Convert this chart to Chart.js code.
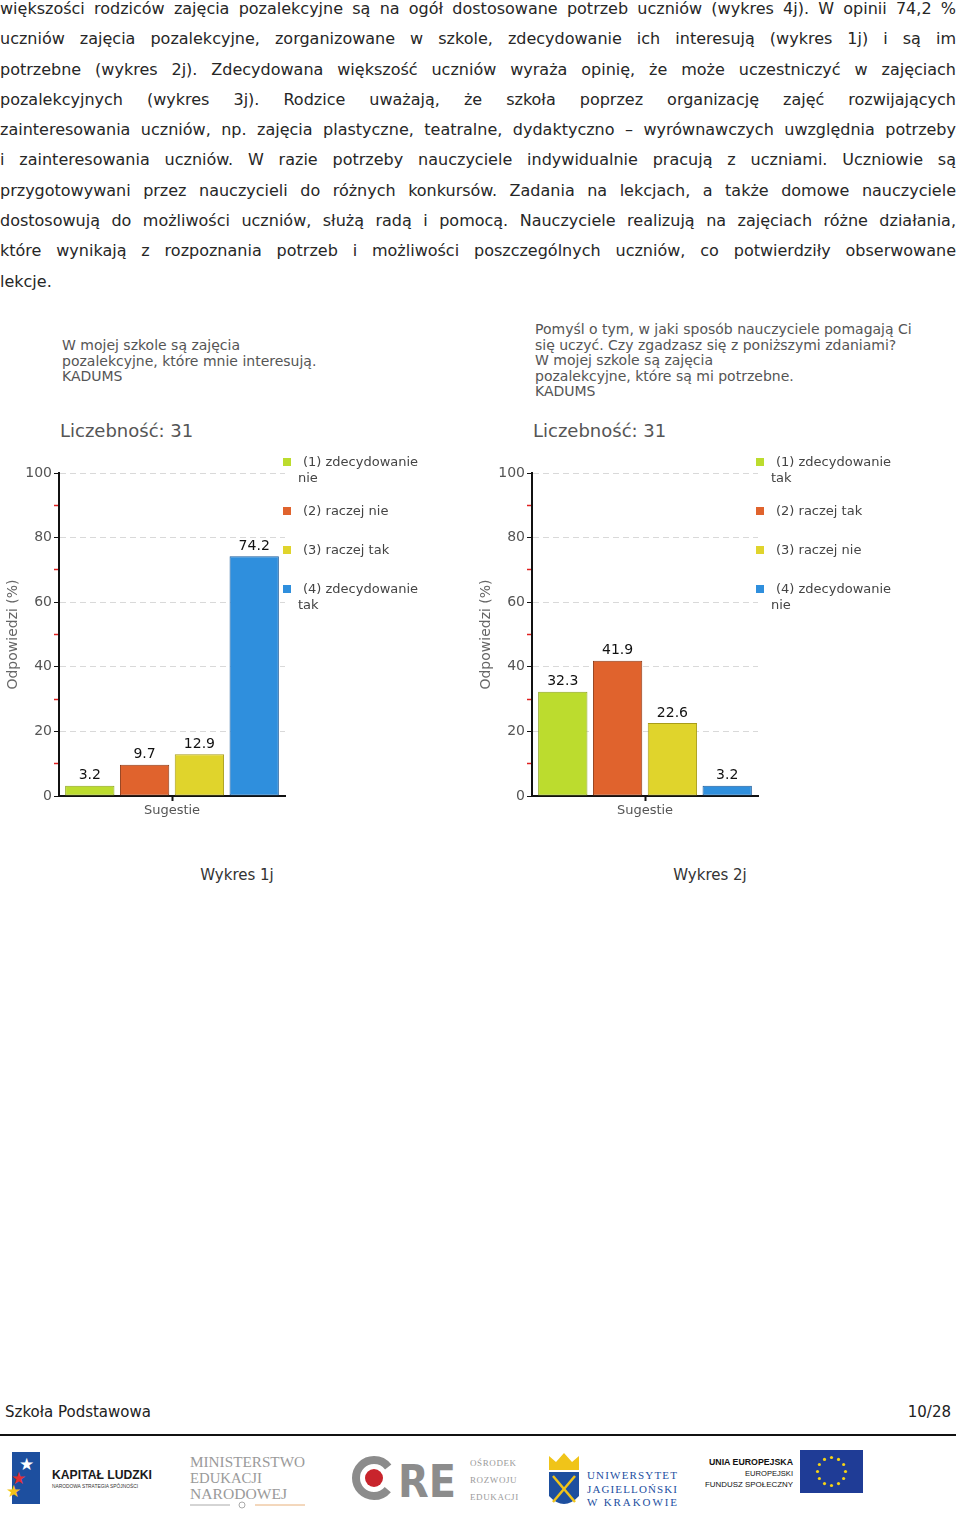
<!DOCTYPE html>
<html lang="pl">
<head>
<meta charset="utf-8">
<title>Wykres 1j i 2j</title>
<script src="https://cdn.jsdelivr.net/npm/chart.js@4.4.1/dist/chart.umd.min.js"></script>
<style>
  body { margin: 0; width: 960px; height: 1523px; position: relative; background: #fff;
         font-family: 'DejaVu Sans', Verdana, sans-serif; color: #222; overflow: hidden; }
  .para { position: absolute; left: 0; top: -6px; width: 956px; font-size: 16px; line-height: 30.3px; color: #262626; }
  .para div { text-align: justify; text-align-last: justify; height: 30.3px; }
  .para div.last { text-align-last: left; }
  .ctitle { position: absolute; font-size: 14px; line-height: 15.5px; color: #555; white-space: nowrap; }
  .count { position: absolute; font-size: 18px; line-height: 22px; color: #555; }
  .chart { position: absolute; top: 440px; width: 480px; height: 400px; }
  .legend { position: absolute; top: 454px; width: 160px; font-size: 13px; line-height: 16px; color: #444; }
  .legend .item { display: flex; align-items: flex-start; min-height: 22px; margin-bottom: 17px; }
  .legend .box { width: 8px; height: 8px; margin-top: 4px; flex: none; }
  .legend .txt { margin-left: 7px; width: 135px; text-indent: 5px; }
  .caption { position: absolute; top: 865px; width: 200px; text-align: center; font-size: 15px; line-height: 20px; color: #333; }
  .foot { position: absolute; top: 1402px; font-size: 15px; line-height: 20px; color: #222; }
  .rule { position: absolute; left: 0; top: 1434px; width: 956px; height: 2px; background: #111; }
  .logos { position: absolute; left: 0; top: 1440px; }
</style>
</head>
<body>

<div class="para">
  <div>większości rodziców zajęcia pozalekcyjne są na ogół dostosowane potrzeb uczniów (wykres 4j). W opinii 74,2 %</div>
  <div>uczniów zajęcia pozalekcyjne, zorganizowane w szkole, zdecydowanie ich interesują (wykres 1j) i są im</div>
  <div>potrzebne (wykres 2j). Zdecydowana większość uczniów wyraża opinię, że może uczestniczyć w zajęciach</div>
  <div>pozalekcyjnych (wykres 3j). Rodzice uważają, że szkoła poprzez organizację zajęć rozwijających</div>
  <div>zainteresowania uczniów, np. zajęcia plastyczne, teatralne, dydaktyczno – wyrównawczych uwzględnia potrzeby</div>
  <div>i zainteresowania uczniów. W razie potrzeby nauczyciele indywidualnie pracują z uczniami. Uczniowie są</div>
  <div>przygotowywani przez nauczycieli do różnych konkursów. Zadania na lekcjach, a także domowe nauczyciele</div>
  <div>dostosowują do możliwości uczniów, służą radą i pomocą. Nauczyciele realizują na zajęciach różne działania,</div>
  <div>które wynikają z rozpoznania potrzeb i możliwości poszczególnych uczniów, co potwierdziły obserwowane</div>
  <div class="last">lekcje.</div>
</div>

<div class="ctitle" style="left:62px; top:338px;">W mojej szkole są zajęcia<br>pozalekcyjne, które mnie interesują.<br>KADUMS</div>
<div class="ctitle" style="left:535px; top:322px;">Pomyśl o tym, w jaki sposób nauczyciele pomagają Ci<br>się uczyć. Czy zgadzasz się z poniższymi zdaniami?<br>W mojej szkole są zajęcia<br>pozalekcyjne, które są mi potrzebne.<br>KADUMS</div>
<div class="count" style="left:60px; top:420px;">Liczebność: 31</div>
<div class="count" style="left:533px; top:420px;">Liczebność: 31</div>

<div class="chart" style="left:0px;"><canvas id="chart1j" width="480" height="400"></canvas></div>
<div class="chart" style="left:473px;"><canvas id="chart2j" width="480" height="400"></canvas></div>
<div class="legend" id="legend1j" style="left:283px;"></div>
<div class="legend" id="legend2j" style="left:756px;"></div>

<div class="caption" style="left:137px;">Wykres 1j</div>
<div class="caption" style="left:610px;">Wykres 2j</div>

<div class="foot" style="left:5px;">Szkoła Podstawowa</div>
<div class="foot" style="right:9px;">10/28</div>
<div class="rule"></div>

<svg class="logos" width="960" height="83" viewBox="0 1440 960 83">
  <!-- Kapitał Ludzki -->
  <rect x="12" y="1452" width="28" height="52" fill="#1d4f9f"/>
  <text x="19" y="1470" font-size="17" fill="#fff" font-family="DejaVu Sans">★</text>
  <text x="11" y="1484" font-size="17" fill="#e03030" font-family="DejaVu Sans">★</text>
  <text x="6" y="1497" font-size="17" fill="#f2c21a" font-family="DejaVu Sans">★</text>
  <text x="52" y="1479" font-size="12" font-weight="bold" fill="#1a1a1a" font-family="Liberation Sans Narrow, Liberation Sans" textLength="100" lengthAdjust="spacingAndGlyphs">KAPITAŁ LUDZKI</text>
  <text x="52" y="1488" font-size="5.5" fill="#333" font-family="Liberation Sans" textLength="86" lengthAdjust="spacingAndGlyphs">NARODOWA STRATEGIA SPÓJNOŚCI</text>

  <!-- Ministerstwo -->
  <g font-family="Liberation Serif" font-size="15" fill="#9a9a9a">
    <text x="190" y="1467" textLength="115" lengthAdjust="spacingAndGlyphs">MINISTERSTWO</text>
    <text x="190" y="1483" textLength="72" lengthAdjust="spacingAndGlyphs">EDUKACJI</text>
    <text x="190" y="1499" textLength="97" lengthAdjust="spacingAndGlyphs">NARODOWEJ</text>
  </g>
  <line x1="190" y1="1505" x2="230" y2="1505" stroke="#aaa" stroke-width="1"/>
  <line x1="255" y1="1505" x2="305" y2="1505" stroke="#e8b07a" stroke-width="1"/>
  <circle cx="242" cy="1505" r="3" fill="none" stroke="#aaa"/>

  <!-- ORE -->
  <circle cx="374" cy="1478" r="18" fill="none" stroke="#8c8c8c" stroke-width="8" stroke-dasharray="88 25.1" stroke-dashoffset="-12.5"/>
  <circle cx="374" cy="1478" r="9" fill="#c8242c"/>
  <text x="398" y="1497" font-size="44" font-weight="bold" fill="#8c8c8c" font-family="DejaVu Sans" textLength="58" lengthAdjust="spacingAndGlyphs">RE</text>
  <g font-family="Liberation Serif" font-size="9" fill="#9a9a9a" letter-spacing="0.6">
    <text x="470" y="1466">OŚRODEK</text>
    <text x="470" y="1483">ROZWOJU</text>
    <text x="470" y="1500">EDUKACJI</text>
  </g>

  <!-- Uniwersytet Jagielloński -->
  <polygon points="549,1470 549,1456 556,1462 564,1453 572,1462 579,1456 579,1470" fill="#f0c419"/>
  <path d="M549,1472 L579,1472 L579,1496 Q564,1512 549,1496 Z" fill="#1d4f9f"/>
  <line x1="553" y1="1476" x2="575" y2="1502" stroke="#f0c419" stroke-width="2.5"/>
  <line x1="575" y1="1476" x2="553" y2="1502" stroke="#f0c419" stroke-width="2.5"/>
  <g font-family="Liberation Serif" font-size="11" fill="#1d4f9f">
    <text x="587" y="1479" textLength="90" lengthAdjust="spacing">UNIWERSYTET</text>
    <text x="587" y="1493" textLength="90" lengthAdjust="spacing">JAGIELLOŃSKI</text>
    <text x="587" y="1506" textLength="90" lengthAdjust="spacing">W KRAKOWIE</text>
  </g>

  <!-- Unia Europejska -->
  <g font-family="Liberation Sans Narrow, Liberation Sans" fill="#111">
    <text x="709" y="1465" font-size="8.5" font-weight="bold" textLength="84" lengthAdjust="spacingAndGlyphs">UNIA EUROPEJSKA</text>
    <text x="745" y="1476" font-size="7" textLength="48" lengthAdjust="spacingAndGlyphs">EUROPEJSKI</text>
    <text x="705" y="1487" font-size="7" textLength="88" lengthAdjust="spacingAndGlyphs">FUNDUSZ SPOŁECZNY</text>
  </g>
  <rect x="800" y="1450" width="63" height="43" fill="#1f3c96"/>
  <g id="euStars" fill="#f5d315"></g>
</svg>

<script>
// dane wykresów
const categories = ['Sugestie'];
const answers1j = ['(1) zdecydowanie nie', '(2) raczej nie', '(3) raczej tak', '(4) zdecydowanie tak'];
const percents1j = [3.2, 9.7, 12.9, 74.2];
const answers2j = ['(1) zdecydowanie tak', '(2) raczej tak', '(3) raczej nie', '(4) zdecydowanie nie'];
const percents2j = [32.3, 41.9, 22.6, 3.2];

const barColors = ['#bcdc2e', '#e0632d', '#e0d42c', '#2f8fdd'];
const barBorders = ['#8ea61c', '#8e3a16', '#a89c1a', '#1c5c9c'];

Chart.defaults.font.family = "'DejaVu Sans', Verdana, sans-serif";

const valueLabels = {
    id: 'valueLabels',
    afterDatasetsDraw(chart) {
        const ctx = chart.ctx;
        ctx.save();
        ctx.font = "14px 'DejaVu Sans'";
        ctx.fillStyle = '#111';
        ctx.textAlign = 'center';
        ctx.textBaseline = 'bottom';
        chart.data.datasets.forEach((ds, i) => {
            chart.getDatasetMeta(i).data.forEach((bar, j) => {
                ctx.fillText(ds.data[j].toFixed(1), bar.x, bar.y - 3);
            });
        });
        ctx.restore();
    }
};

function buildLegend(chart, el) {
    chart.data.datasets.forEach(ds => {
        const item = document.createElement('div');
        item.className = 'item';
        const box = document.createElement('span');
        box.className = 'box';
        box.style.background = ds.backgroundColor;
        const txt = document.createElement('span');
        txt.className = 'txt';
        txt.textContent = ds.label;
        item.appendChild(box);
        item.appendChild(txt);
        el.appendChild(item);
    });
}

function createChart(canvasId, legendId, answers, values) {
    const chart = new Chart(document.getElementById(canvasId), {
        type: 'bar',
        data: {
            labels: categories,
            datasets: answers.map((label, i) => ({
                label: label,
                data: [values[i]],
                backgroundColor: barColors[i],
                borderColor: barBorders[i],
                borderWidth: 1,
                borderSkipped: false,
                categoryPercentage: 0.97,
                barPercentage: 0.9
            }))
        },
        options: {
            responsive: false,
            animation: false,
            layout: { padding: { top: 33, right: 195, bottom: 20, left: 0 } },
            plugins: {
                legend: { display: false },
                tooltip: { enabled: false }
            },
            scales: {
                x: {
                    grid: { display: true, drawOnChartArea: false, offset: false, tickLength: 5, tickColor: '#111', tickWidth: 2 },
                    border: { color: '#111', width: 2 },
                    ticks: { color: '#555', font: { size: 13 }, padding: 2 },
                    afterFit: s => { s.height = 24; }
                },
                y: {
                    min: 0,
                    max: 100,
                    ticks: {
                        stepSize: 10,
                        color: '#555',
                        font: { size: 14 },
                        padding: 2,
                        callback: v => (v % 20 === 0 ? v : '')
                    },
                    grid: {
                        color: c => (c.tick && c.tick.value % 20 === 0 && c.tick.value > 0) ? '#d9d9d9' : 'rgba(0,0,0,0)',
                        tickColor: c => (c.tick && c.tick.value % 20 === 0) ? '#111' : '#e02020',
                        tickWidth: c => (c.tick && c.tick.value % 20 === 0) ? 1 : 1.5,
                        tickLength: 5,
                        lineWidth: 1
                    },
                    border: { color: '#111', width: 2, dash: [6, 4] },
                    title: { display: true, text: 'Odpowiedzi (%)', color: '#666', font: { size: 14 }, padding: { top: 5 } },
                    afterFit: s => { s.width = 59; }
                }
            }
        },
        plugins: [valueLabels]
    });
    buildLegend(chart, document.getElementById(legendId));
    return chart;
}

createChart('chart1j', 'legend1j', answers1j, percents1j);
createChart('chart2j', 'legend2j', answers2j, percents2j);

// dopasowanie wierszy akapitu, gdy nie mieszczą się w jednej linii
document.querySelectorAll('.para div').forEach(line => {
    line.style.height = 'auto';
    let ls = 0;
    while (line.offsetHeight > 31 && ls > -2) {
        ls -= 0.05;
        line.style.letterSpacing = ls + 'px';
    }
    line.style.height = '30.3px';
});

// gwiazdy flagi UE
const stars = document.getElementById('euStars');
for (let k = 0; k < 12; k++) {
    const a = k * Math.PI / 6;
    const c = document.createElementNS('http://www.w3.org/2000/svg', 'circle');
    c.setAttribute('cx', 831.5 + 14 * Math.cos(a));
    c.setAttribute('cy', 1471.5 + 14 * Math.sin(a));
    c.setAttribute('r', 1.6);
    stars.appendChild(c);
}
</script>
</body>
</html>
